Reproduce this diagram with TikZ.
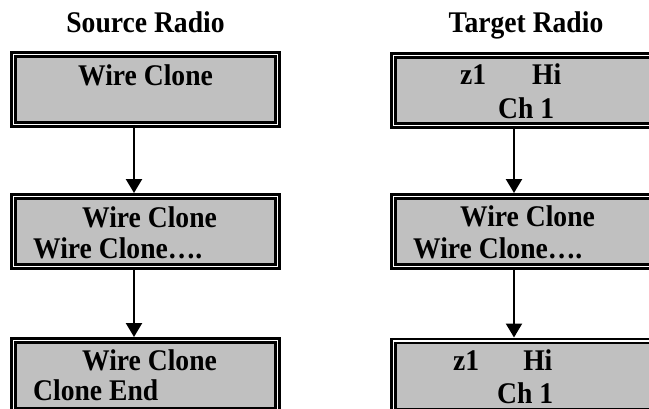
\documentclass[tikz,border=0pt]{standalone}
\usepackage{fontspec}
\setmainfont[FakeStretch=0.92]{Liberation Serif}
\usetikzlibrary{arrows.meta}
\definecolor{lcdgray}{HTML}{C0C0C0}

\begin{document}
\begin{tikzpicture}[x=1pt, y=-1pt,
  every node/.style={font=\fontsize{30pt}{36pt}\selectfont\bfseries},
  lcd/.style={draw, fill=lcdgray, line width=2.7pt, double=white, double distance=1.5pt, minimum width=264.1pt, minimum height=70.1pt, inner sep=0pt, outer sep=3.45pt},
  txt/.style={anchor=base west, inner sep=0pt},
  flow/.style={-{Triangle[width=16pt, length=14pt]}, line width=2.3pt}]
\useasboundingbox (0,0) rectangle (649,408);

% Draw the titles
\node[anchor=base, inner sep=0pt] (srctitle) at (145.5,32.5) {Source Radio};
\node[anchor=base, inner sep=0pt] (tgttitle) at (526,32.5) {Target Radio};

% Draw the displays of the source radio
\node[lcd] (src1) at (145.5,89.5) {};
\node[lcd] (src2) at (145.5,231.5) {};
\node[lcd] (src3) at (145.5,375.5) {};

% Draw the displays of the target radio
\node[lcd] (tgt1) at (525.5,90.5) {};
\node[lcd] (tgt2) at (525.5,231.5) {};
\node[lcd] (tgt3) at (525.5,376) {};

% Text on the displays
\node[txt] (src1a) at (78,85) {Wire Clone};
\node[txt] (src2a) at (82,227) {Wire Clone};
\node[txt] (src2b) at (33,258) {Wire Clone….};
\node[txt] (src3a) at (82,370) {Wire Clone};
\node[txt] (src3b) at (33,400) {Clone End};
\node[txt] (tgt1a) at (460,84) {z1\hspace{46pt}Hi};
\node[txt] (tgt1b) at (498,118) {Ch 1};
\node[txt] (tgt2a) at (460,226) {Wire Clone};
\node[txt] (tgt2b) at (413,258) {Wire Clone….};
\node[txt] (tgt3a) at (453,370) {z1\hspace{44pt}Hi};
\node[txt] (tgt3b) at (497,403) {Ch 1};

% Draw arrows
\draw[flow] ([xshift=-11.5pt]src1.south) -- ([xshift=-11.5pt]src2.north);
\draw[flow] ([xshift=-11.5pt]src2.south) -- ([xshift=-11.5pt]src3.north);
\draw[flow] ([xshift=-11.5pt]tgt1.south) -- ([xshift=-11.5pt]tgt2.north);
\draw[flow] ([xshift=-11.5pt]tgt2.south) -- ([xshift=-11.5pt]tgt3.north);
\end{tikzpicture}
\end{document}
